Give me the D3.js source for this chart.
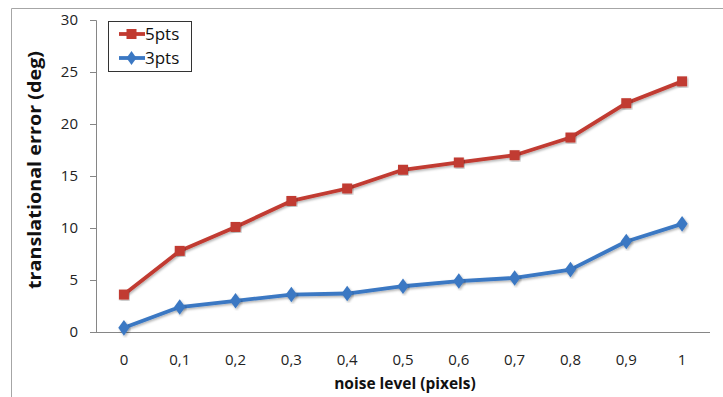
<!DOCTYPE html>
<html><head><meta charset="utf-8">
<script src="https://d3js.org/d3.v7.min.js"></script>
<style>body{margin:0;background:#fff}svg{display:block;font-family:"Open Sans","Noto Sans",sans-serif}</style>
</head><body><svg id="c" width="723" height="397"></svg>
<script>
const categories = ["0","0,1","0,2","0,3","0,4","0,5","0,6","0,7","0,8","0,9","1"];
const pts5 = [3.6,7.8,10.1,12.6,13.8,15.6,16.3,17.0,18.7,22.0,24.1];
const pts3 = [0.4,2.4,3.0,3.6,3.7,4.4,4.9,5.2,6.0,8.7,10.4];
const yTicks = [0,5,10,15,20,25,30];
const seriesNames = ["5pts","3pts"];

const svg = d3.select("#c");
// outer frame
svg.append("path").attr("d","M11.5,397V8.5H723").attr("fill","none").attr("stroke","#a6a6a6").attr("stroke-width",1);

const x = d3.scaleBand().domain(categories).range([96,710]);
const y = d3.scaleLinear().domain([0,30]).range([332,20]);

const axisColor = "#868686";
// y axis
const ya = svg.append("g").attr("transform","translate(96,0)")
  .call(d3.axisLeft(y).tickValues(yTicks).tickSize(6).tickPadding(12));
ya.select(".domain").attr("stroke",axisColor).attr("d","M-6,20.5H0.5V332.5");
ya.selectAll(".tick line").attr("stroke",axisColor);
ya.selectAll("text").attr("fill","#222").style("font-size","15px").style("font-family","'Open Sans',sans-serif");

// x axis
const xa = svg.append("g").attr("transform","translate(0,332)")
  .call(d3.axisBottom(x).tickSize(0).tickPadding(22));
xa.select(".domain").attr("stroke",axisColor).attr("d","M96,0.5H710");
xa.selectAll("text").attr("fill","#222").style("font-size","15px").style("font-family","'Open Sans',sans-serif");

// titles
svg.append("text").attr("x",405).attr("y",389).attr("text-anchor","middle")
  .style("font-size","15.5px").style("font-weight","bold").attr("fill","#111").text("noise level (pixels)");
svg.append("text").attr("transform","translate(41,170) rotate(-90)").attr("text-anchor","middle")
  .attr("textLength",238).attr("lengthAdjust","spacingAndGlyphs")
  .style("font-size","17px").style("font-weight","bold").attr("fill","#111").text("translational error (deg)");

const cx = c => x(c) + x.bandwidth()/2;
const red = "#c13b31", blue = "#3b78c3";
const line = d3.line().x((d,i)=>cx(categories[i])).y(d=>y(d));

const defs = svg.append("defs");
defs.append("filter").attr("id","sh").append("feDropShadow").attr("dx",1).attr("dy",1.5).attr("stdDeviation",1).attr("flood-opacity",0.3);

function drawSeries(vals, color, isSquare){
  svg.append("path").datum(vals).attr("d",line).attr("fill","none").attr("stroke",color)
    .attr("stroke-width",3.8).attr("stroke-linejoin","round").attr("filter","url(#sh)");
  svg.selectAll(null).data(vals).enter().append("path")
    .attr("d", isSquare ? d3.symbol().type(d3.symbolSquare).size(100)() : d3.symbol().type(d3.symbolDiamond).size(70)())
    .attr("transform",(d,i)=>`translate(${cx(categories[i])},${y(d)})`+(isSquare?"":" scale(1.25,1)"))
    .attr("fill",color).attr("filter","url(#sh)");
}
drawSeries(pts5, red, true);
drawSeries(pts3, blue, false);

// legend
const lg = svg.append("g");
lg.append("rect").attr("x",108.5).attr("y",21.5).attr("width",83).attr("height",50).attr("fill","#fff").attr("stroke","#333").attr("stroke-width",1);
const legendColors = [red, blue];
seriesNames.forEach((n,i)=>{
  const ly = 34 + i*24;
  lg.append("line").attr("x1",119).attr("x2",145).attr("y1",ly).attr("y2",ly).attr("stroke",legendColors[i]).attr("stroke-width",3.8);
  if(i===0) lg.append("rect").attr("x",126.5).attr("y",ly-5).attr("width",10).attr("height",10).attr("fill",red);
  else lg.append("path").attr("d",d3.symbol().type(d3.symbolDiamond).size(55)()).attr("transform",`translate(131.5,${ly}) scale(1.25,1)`).attr("fill",blue);
  lg.append("text").attr("x",145).attr("y",ly+6).style("font-size","17px").attr("fill","#111").text(n);
});
</script></body></html>
